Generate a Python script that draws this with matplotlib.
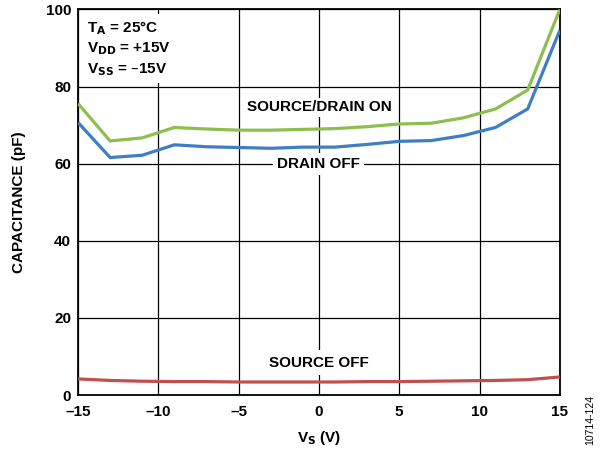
import matplotlib
matplotlib.use("Agg")
import matplotlib.pyplot as plt

plt.rcParams['font.family'] = ['Liberation Sans', 'DejaVu Sans']
plt.rcParams['font.weight'] = 'bold'
plt.rcParams['mathtext.default'] = 'bf'

# Vs sweep (V) and capacitance (pF)
vs = [-15, -13, -11, -9, -7, -5, -3, -1, 1, 3, 5, 7, 9, 11, 13, 15]
cap_sd_on = [75.6, 65.9, 66.7, 69.4, 69.0, 68.7, 68.7, 68.9, 69.1, 69.6, 70.3, 70.5, 71.9, 74.2, 79.1, 100.0]
cap_drain_off = [70.7, 61.6, 62.2, 64.9, 64.4, 64.2, 64.0, 64.3, 64.3, 65.0, 65.8, 66.0, 67.3, 69.4, 74.2, 94.6]
cap_source_off = [4.2, 3.8, 3.6, 3.5, 3.5, 3.4, 3.4, 3.4, 3.4, 3.5, 3.5, 3.6, 3.7, 3.8, 4.0, 4.7]

xticks = [-15, -10, -5, 0, 5, 10, 15]
xtick_labels = ['–15', '–10', '–5', '0', '5', '10', '15']
yticks = [0, 20, 40, 60, 80, 100]

fig = plt.figure(figsize=(6, 4.5), dpi=100)
ax = fig.add_axes([0.13, 0.122, 0.803, 0.857])

ax.plot(vs, cap_sd_on, color='#8DBE4F', lw=2.3, zorder=3, solid_capstyle='butt')
ax.plot(vs, cap_drain_off, color='#3F7EC5', lw=2.3, zorder=3, solid_capstyle='butt')
ax.plot(vs, cap_source_off, color='#C0504D', lw=2.3, zorder=3, solid_capstyle='butt')

ax.set_xlim(-15, 15)
ax.set_ylim(0, 100)
ax.set_xticks(xticks)
ax.set_xticklabels(xtick_labels)
ax.set_yticks(yticks)
ax.tick_params(length=0, labelsize=11)
ax.tick_params(axis='x', pad=7)
ax.tick_params(axis='y', pad=5)
for lbl in ax.get_xticklabels() + ax.get_yticklabels():
    lbl.set_fontweight('bold')
ax.grid(True, color='black', lw=0.9, zorder=1)
for sp in ax.spines.values():
    sp.set_linewidth(1.3)

ax.set_xlabel('V$_\\mathbf{S}$ (V)', fontsize=11, fontweight='bold', labelpad=7)
ax.set_ylabel('CAPACITANCE (pF)', fontsize=11, fontweight='bold', labelpad=14)

ax.text(0, 74.6, 'SOURCE/DRAIN ON', ha='center', va='center', fontsize=11,
        fontweight='bold', bbox=dict(facecolor='white', edgecolor='none', pad=2), zorder=2)
ax.text(0, 60, 'DRAIN OFF', ha='center', va='center', fontsize=11,
        fontweight='bold', bbox=dict(facecolor='white', edgecolor='none', pad=3), zorder=2)
ax.text(0, 8.4, 'SOURCE OFF', ha='center', va='center', fontsize=11,
        fontweight='bold', bbox=dict(facecolor='white', edgecolor='none', pad=4), zorder=2)

ax.text(-14.45, 97.4,
        'T$_\\mathbf{A}$ = 25°C\nV$_\\mathbf{DD}$ = +15V\nV$_\\mathbf{SS}$ = –15V',
        ha='left', va='top', fontsize=11, fontweight='bold', linespacing=1.3,
        bbox=dict(facecolor='white', edgecolor='none', pad=4), zorder=2)

fig.text(0.984, 0.012, '10714-124', rotation=90, fontsize=7.5, fontweight='normal',
         ha='center', va='bottom')

fig.savefig('out.png', dpi=100)
